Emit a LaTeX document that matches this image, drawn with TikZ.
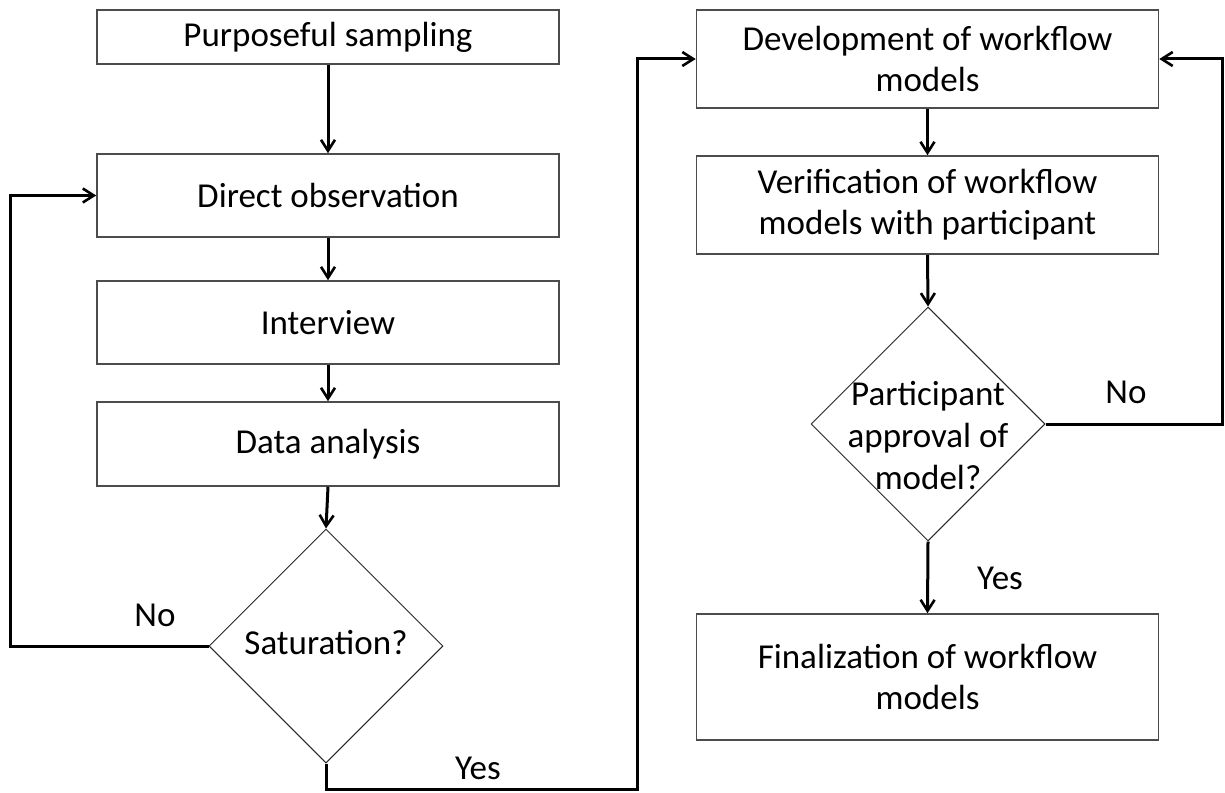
\documentclass[tikz,border=0pt]{standalone}
\usepackage{fontspec}
\setmainfont{Carlito}
\usetikzlibrary{shapes.geometric,arrows.meta}

\begin{document}
\begin{tikzpicture}[x=1pt,y=-1pt,
  box/.style={draw=black!70, line width=1.6pt, minimum width=462pt, inner sep=0pt,
              align=center, font=\fontsize{35}{41}\selectfont},
  dec/.style={draw=black!85, line width=1pt, diamond, minimum width=234pt,
              minimum height=234pt, inner sep=0pt},
  lbl/.style={font=\fontsize{35}{42}\selectfont, align=center, inner sep=0pt},
  flow/.style={line width=3pt, -{Straight Barb[length=11pt,width=14pt,line width=2.6pt]}}
]
\useasboundingbox (0,0) rectangle (1225,792);

% left column: data collection loop
\node[box, minimum height=54pt] (ps) at (328,37) {Purposeful sampling};
\node[box, minimum height=83pt] (do) at (328,195.5) {Direct observation};
\node[box, minimum height=83pt] (iv) at (328,322.5) {Interview};
\node[box, minimum height=84pt] (da) at (328,444) {Data analysis};
\node[dec] (sat) at (326,646) {};
\node[lbl] (satt) at (326,643) {Saturation?};

% right column: model development loop
\node[box, minimum height=98pt] (dev) at (927.5,59) {Development of workflow\\models};
\node[box, minimum height=98pt] (ver) at (927.5,205) {Verification of workflow\\models with participant};
\node[dec] (pa) at (928,424) {};
\node[lbl] (pat) at (928,436) {Participant\\approval of\\model?};
\node[box, minimum height=126pt] (fin) at (927.5,677) {Finalization of workflow\\models};

% corner points of the routed connectors
\coordinate (lx) at (10,646);
\coordinate (by) at (637,789);
\coordinate (rx) at (1222,424);

% connectors
\draw[flow] (ps.south) -- (do.north);
\draw[flow] (do.south) -- (iv.north);
\draw[flow] (iv.south) -- (da.north);
\draw[flow] (da.south) -- (sat.north);
\draw[flow] (sat.west) -- (lx) |- (do.west);
\draw[flow] (sat.south) |- (by) |- (dev.west);
\draw[flow] (dev.south) -- (ver.north);
\draw[flow] (ver.south) -- (pa.north);
\draw[flow] (pa.south) -- (fin.north);
\draw[flow] (pa.east) -- (rx) |- (dev.east);

% branch labels
\node[lbl] (no1) at (155,615) {No};
\node[lbl] (yes1) at (478,768) {Yes};
\node[lbl] (no2) at (1126,392) {No};
\node[lbl] (yes2) at (1000,578) {Yes};
\end{tikzpicture}
\end{document}
